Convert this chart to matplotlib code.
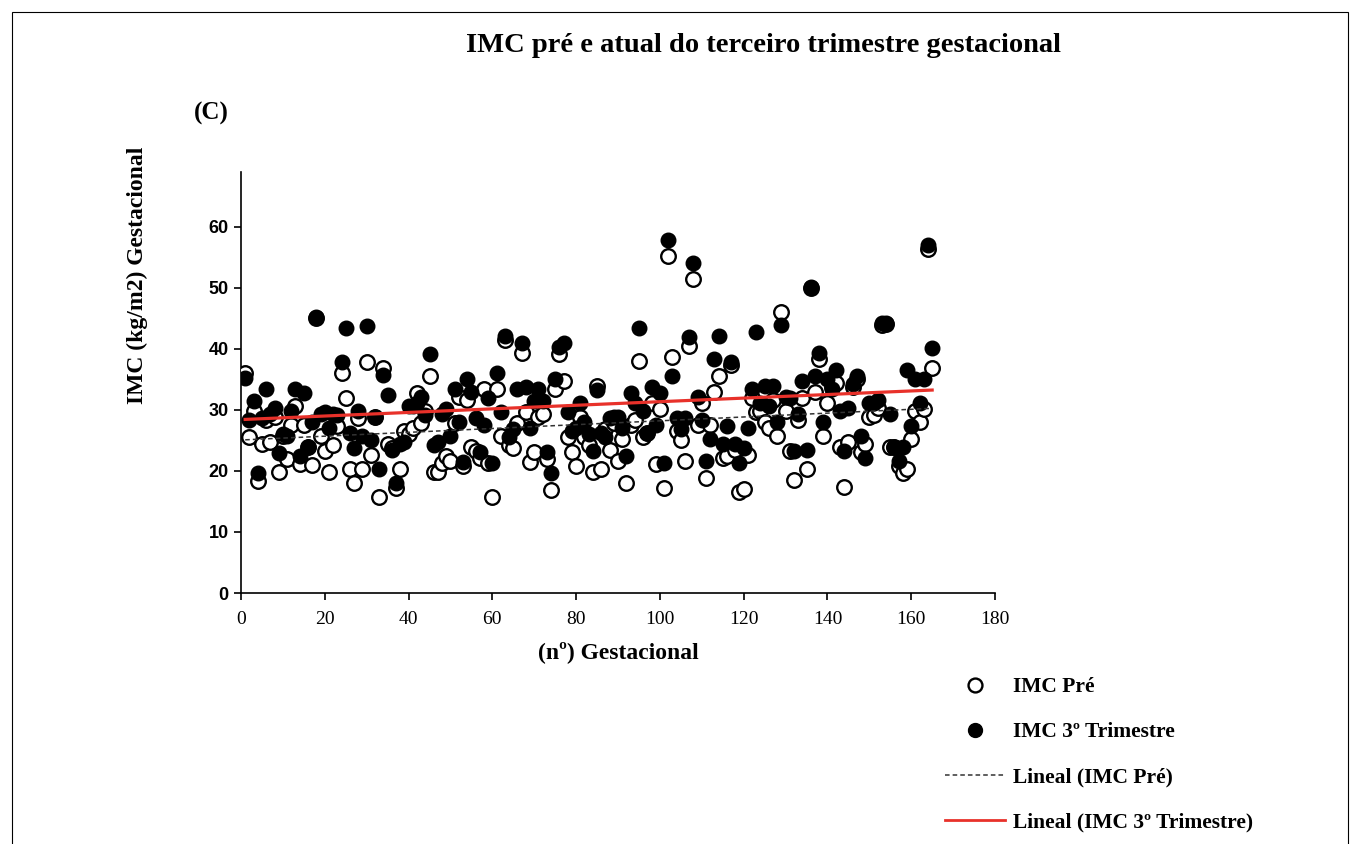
import numpy as np
import matplotlib
matplotlib.use("Agg")
import matplotlib.pyplot as plt
from matplotlib.lines import Line2D
from matplotlib.patches import Rectangle

plt.rcParams['font.family'] = ['Liberation Serif', 'DejaVu Serif']

imc_pre = [36.1, 25.5, 29.9, 18.3, 24.4, 28.4, 24.7, 28.8, 19.8, 25.8,
           21.9, 27.5, 30.7, 21.1, 27.5, 23.9, 20.9, 45.0, 25.8, 23.2,
           19.9, 24.2, 27.3, 36.1, 32.0, 20.3, 18.0, 28.6, 20.3, 37.8,
           22.6, 28.9, 15.7, 36.9, 24.5, 23.7, 17.2, 20.4, 26.5, 26.0,
           27.0, 32.7, 27.8, 29.9, 35.6, 19.8, 19.8, 21.3, 22.4, 21.7,
           27.8, 32.2, 20.8, 31.7, 24.0, 23.2, 22.1, 33.5, 21.3, 15.7,
           33.5, 25.8, 41.5, 24.2, 23.7, 27.8, 39.4, 29.6, 21.4, 23.1,
           28.8, 29.3, 21.9, 16.8, 33.4, 39.1, 34.8, 25.5, 23.1, 20.8,
           28.8, 25.5, 24.2, 19.9, 34.0, 20.4, 26.8, 23.5, 27.8, 21.7,
           25.3, 18.1, 27.5, 28.3, 38.1, 25.5, 26.3, 31.1, 21.1, 30.1,
           17.2, 55.3, 38.6, 26.6, 25.0, 21.7, 40.5, 51.5, 27.5, 31.2,
           18.8, 27.5, 33.0, 35.5, 22.1, 22.4, 37.4, 23.4, 16.5, 17.0,
           22.6, 31.9, 29.6, 29.8, 28.1, 27.0, 31.7, 25.8, 46.1, 29.8,
           23.2, 18.6, 28.3, 31.9, 20.3, 50.0, 33.0, 38.4, 25.8, 31.2,
           33.8, 34.5, 23.9, 17.3, 24.8, 33.8, 35.0, 23.1, 24.4, 28.9,
           29.1, 30.4, 44.0, 44.1, 23.9, 23.9, 20.8, 19.6, 20.3, 25.3,
           29.9, 28.1, 30.2, 56.4, 36.9]

imc_3tri = [35.3, 28.3, 31.4, 19.6, 28.6, 33.4, 29.4, 30.4, 22.9, 26.0,
            25.8, 29.8, 33.4, 22.4, 32.7, 23.9, 28.0, 45.3, 29.3, 29.6,
            27.0, 29.3, 29.1, 37.9, 43.5, 26.3, 23.7, 29.8, 25.7, 43.8,
            25.0, 28.9, 20.3, 35.8, 32.4, 23.5, 18.1, 24.4, 24.8, 30.6,
            30.7, 31.2, 32.2, 29.1, 39.1, 24.2, 24.7, 29.4, 30.2, 25.7,
            33.4, 28.1, 21.4, 35.1, 32.9, 28.6, 23.1, 27.6, 31.9, 21.3,
            36.1, 29.6, 42.2, 25.5, 26.8, 33.4, 41.0, 33.7, 27.1, 31.4,
            33.5, 31.4, 23.1, 19.6, 35.1, 40.4, 40.9, 29.6, 26.6, 27.1,
            31.2, 28.1, 26.0, 23.2, 33.2, 26.3, 25.5, 28.6, 28.9, 28.9,
            27.1, 22.4, 32.7, 31.1, 43.5, 29.9, 26.3, 33.7, 27.6, 32.7,
            21.3, 57.9, 35.6, 28.6, 26.8, 28.6, 42.0, 54.1, 32.2, 28.3,
            21.7, 25.3, 38.3, 42.2, 24.5, 27.3, 37.8, 24.4, 21.3, 23.7,
            27.0, 33.4, 42.8, 31.1, 34.0, 30.6, 34.0, 28.0, 44.0, 32.2,
            32.0, 23.2, 29.4, 34.7, 23.4, 50.2, 35.5, 39.4, 28.0, 35.1,
            33.4, 36.5, 29.9, 23.2, 30.4, 34.3, 35.5, 25.8, 22.1, 31.1,
            31.2, 31.6, 44.3, 44.3, 29.4, 24.0, 21.7, 23.9, 36.5, 27.3,
            35.0, 31.2, 35.1, 57.1, 40.2]

x_ticks = [0, 20, 40, 60, 80, 100, 120, 140, 160, 180]
y_ticks = [0, 10, 20, 30, 40, 50, 60]

n = np.arange(1, len(imc_pre) + 1)

fig = plt.figure(figsize=(13.6, 8.44), dpi=100)
fig.patches.append(Rectangle((12/1360, -0.01), (1348-12)/1360, 1 - 12/844 + 0.01,
                             transform=fig.transFigure, fill=False,
                             edgecolor='black', linewidth=0.8))

ax = fig.add_axes([241/1360, 1 - 593/844, (995-241)/1360, (593-172)/844])

ax.scatter(n, imc_pre, s=110, facecolors='white', edgecolors='black',
           linewidths=1.7, zorder=3)
ax.scatter(n, imc_3tri, s=110, facecolors='black', edgecolors='black',
           linewidths=1.0, zorder=4)

c_pre = np.polyfit(n, imc_pre, 1)
c_3 = np.polyfit(n, imc_3tri, 1)
ax.plot(n, np.polyval(c_pre, n), linestyle=(0, (3, 2)), color='#333333',
        linewidth=1.1, zorder=5)
ax.plot(n, np.polyval(c_3, n), color='#e8312a', linewidth=2.3, zorder=5)

ax.set_xlim(0, 180)
ax.set_ylim(0, 69)
ax.set_xticks(x_ticks)
ax.set_yticks(y_ticks)
ax.spines['top'].set_visible(False)
ax.spines['right'].set_visible(False)
ax.spines['left'].set_linewidth(1.2)
ax.spines['bottom'].set_linewidth(1.2)
ax.tick_params(direction='out', length=5, width=1.2)
ax.tick_params(axis='x', pad=8)
ax.tick_params(axis='y', pad=4)
for lab in ax.get_xticklabels():
    lab.set_fontsize(14)
    lab.set_family('Liberation Serif')
for lab in ax.get_yticklabels():
    lab.set_fontsize(13)
    lab.set_family('Liberation Sans')
    lab.set_fontweight('bold')

fig.text(618/1360, 1 - 652/844, '(nº) Gestacional', ha='center', va='center',
         fontsize=17, fontweight='bold')
fig.text(137/1360, 1 - 275/844, 'IMC (kg/m2) Gestacional', rotation=90,
         ha='center', va='center', fontsize=17, fontweight='bold')

fig.text(763/1360, 1 - 45/844, 'IMC pré e atual do terceiro trimestre gestacional',
         ha='center', va='center', fontsize=20.5, fontweight='bold')
fig.text(194/1360, 1 - 113/844, '(C)', ha='left', va='center',
         fontsize=18, fontweight='bold')

handles = [
    Line2D([], [], linestyle='none', marker='o', markersize=10,
           markerfacecolor='white', markeredgecolor='black', markeredgewidth=1.7),
    Line2D([], [], linestyle='none', marker='o', markersize=10,
           markerfacecolor='black', markeredgecolor='black'),
    Line2D([], [], linestyle=(0, (3, 2)), color='#333333', linewidth=1.1),
    Line2D([], [], color='#e8312a', linewidth=2.0),
]
labels = ['IMC Pré', 'IMC 3º Trimestre', 'Lineal (IMC Pré)', 'Lineal (IMC 3º Trimestre)']
fig.legend(handles, labels, loc='upper left',
           bbox_to_anchor=(945/1360, 1 - 677/844), frameon=False,
           prop={'size': 15.5, 'weight': 'bold'}, handlelength=2.8,
           handletextpad=0.37, labelspacing=1.17, borderaxespad=0, borderpad=0)

fig.savefig('out.png', dpi=100)
